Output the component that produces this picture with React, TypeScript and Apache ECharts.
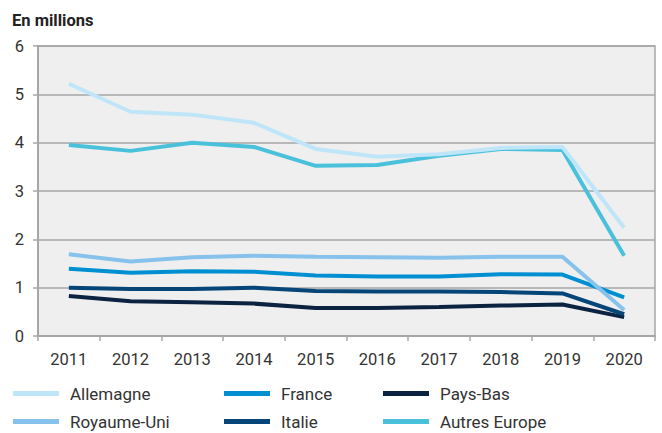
import React, { useEffect, useRef } from "react";
import * as echarts from "echarts";

const years = ["2011", "2012", "2013", "2014", "2015", "2016", "2017", "2018", "2019", "2020"];
const allemagne = [5.22, 4.64, 4.58, 4.41, 3.87, 3.71, 3.76, 3.89, 3.91, 2.24];
const autresEurope = [3.95, 3.83, 4.0, 3.91, 3.52, 3.54, 3.73, 3.87, 3.85, 1.66];
const royaumeUni = [1.69, 1.54, 1.63, 1.66, 1.64, 1.63, 1.62, 1.64, 1.64, 0.54];
const france = [1.39, 1.31, 1.34, 1.33, 1.25, 1.23, 1.23, 1.28, 1.27, 0.8];
const italie = [1.0, 0.97, 0.97, 1.0, 0.93, 0.92, 0.92, 0.91, 0.88, 0.45];
const paysBas = [0.83, 0.72, 0.7, 0.67, 0.58, 0.58, 0.6, 0.63, 0.65, 0.39];
const yTicks = [0, 1, 2, 3, 4, 5, 6];

const seriesDefs = [
  { name: "Allemagne", data: allemagne, color: "#bfe5f9" },
  { name: "France", data: france, color: "#0090d2" },
  { name: "Pays-Bas", data: paysBas, color: "#0b2340" },
  { name: "Royaume-Uni", data: royaumeUni, color: "#86c2eb" },
  { name: "Italie", data: italie, color: "#064578" },
  { name: "Autres Europe", data: autresEurope, color: "#4ac1db" },
];

const legendPos = [
  { left: 13, top: 385 },
  { left: 224, top: 385 },
  { left: 383, top: 385 },
  { left: 13, top: 413 },
  { left: 224, top: 413 },
  { left: 383, top: 413 },
];

export default function App() {
  const ref = useRef<HTMLDivElement>(null);
  useEffect(() => {
    if (!ref.current) return;
    const chart = echarts.init(ref.current, null, { renderer: "svg" });
    const font = "Roboto, sans-serif";
    const drawOrder = ["Pays-Bas", "Italie", "France", "Royaume-Uni", "Autres Europe", "Allemagne"];
    chart.setOption({
      animation: false,
      backgroundColor: "#ffffff",
      textStyle: { fontFamily: font },
      title: {
        text: "En millions",
        left: 12,
        top: 12,
        padding: 0,
        textStyle: { fontSize: 16.5, fontWeight: "bold", color: "#222", fontFamily: font },
      },
      legend: seriesDefs.map((s, i) => ({
        data: [s.name],
        left: legendPos[i].left,
        top: legendPos[i].top,
        padding: 0,
        itemWidth: 46,
        itemHeight: 5,
        itemGap: 10,
        icon: "rect",
        selectedMode: false,
        textStyle: { fontSize: 17, color: "#333", fontFamily: font, padding: [0, 0, 0, 6] },
      })),
      grid: {
        left: 38,
        right: 7,
        top: 46,
        bottom: 97,
        show: true,
        backgroundColor: "#efefef",
        borderColor: "#a6a6a6",
        borderWidth: 1.5,
      },
      xAxis: {
        type: "category",
        data: years,
        boundaryGap: true,
        axisLine: { lineStyle: { color: "#a6a6a6", width: 2 } },
        axisTick: { show: true, length: 5, lineStyle: { color: "#a6a6a6", width: 1.5 } },
        axisLabel: { fontSize: 16.5, color: "#333", margin: 15, fontFamily: font },
      },
      yAxis: {
        type: "value",
        min: yTicks[0],
        max: yTicks[yTicks.length - 1],
        interval: 1,
        axisLine: { show: true, lineStyle: { color: "#a6a6a6", width: 2 } },
        axisTick: { show: true, length: 5, lineStyle: { color: "#a6a6a6", width: 1.5 } },
        axisLabel: { fontSize: 16.5, color: "#333", margin: 14, fontFamily: font },
        splitLine: { lineStyle: { color: "#a6a6a6", width: 1.5 } },
      },
      series: drawOrder.map((n) => {
        const s = seriesDefs.find((d) => d.name === n)!;
        return {
          name: s.name,
          type: "line",
          data: s.data,
          symbol: "none",
          lineStyle: { color: s.color, width: 4 },
          itemStyle: { color: s.color },
          emphasis: { disabled: true },
        };
      }),
    });
    return () => chart.dispose();
  }, []);
  return <div ref={ref} style={{ width: 662, height: 433, position: "absolute", left: 0, top: 0 }} />;
}
